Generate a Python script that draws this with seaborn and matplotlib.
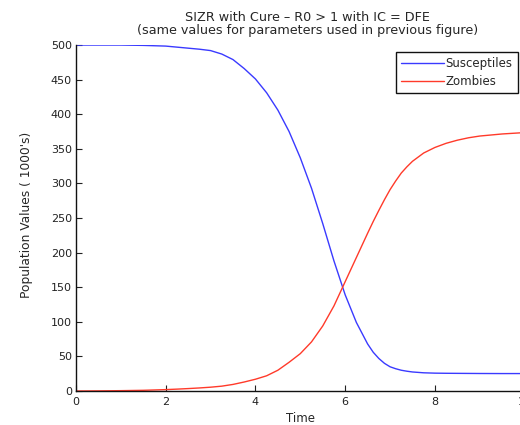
import pandas as pd
import numpy as np
import matplotlib
matplotlib.use("Agg")
import matplotlib.pyplot as plt
import seaborn as sns

# values
time = [0, 0.5, 1, 1.5, 2, 2.25, 2.5, 2.75, 3, 3.25, 3.5, 3.75, 4, 4.25, 4.5, 4.75,
        5, 5.25, 5.5, 5.75, 6, 6.25, 6.5, 6.625, 6.75, 6.875, 7, 7.125, 7.25, 7.375,
        7.5, 7.75, 8, 8.25, 8.5, 8.75, 9, 9.5, 10]
susceptibles = [500, 500, 500, 499.5, 498.5, 497, 495.5, 494, 492, 487, 479, 466, 451, 431, 406, 375,
                337, 293, 242, 188, 139, 99, 68, 56, 47, 40, 35, 32.2, 30, 28.6,
                27.5, 26.3, 25.8, 25.6, 25.5, 25.4, 25.3, 25.2, 25.2]
zombies = [0, 0.2, 0.5, 1, 2, 2.7, 3.5, 4.4, 5.5, 7, 9.5, 13, 17, 22, 30, 41.5,
           54, 71, 94, 123, 158, 193, 228, 245, 261, 276.5, 291, 303.5, 315, 324,
           332, 344, 352, 358, 362.5, 366, 368.5, 371.5, 373.5]

df = pd.DataFrame({"Time": time, "Susceptibles": susceptibles, "Zombies": zombies})
long_df = df.melt(id_vars="Time", var_name="group", value_name="value")

sns.set_style("ticks")
plt.rcParams["font.family"] = ["DejaVu Sans"]

fig = plt.figure(figsize=(5.2, 4.25), dpi=100)
ax = fig.add_axes([0.146, 0.08, 0.863, 0.814])

sns.lineplot(data=long_df, x="Time", y="value", hue="group",
             palette={"Susceptibles": "#3a3aff", "Zombies": "#ff3a2a"},
             linewidth=1.0, ax=ax)

ax.set_xlim(0, 10)
ax.set_ylim(0, 500)
ax.set_xticks([0, 2, 4, 6, 8, 10])
ax.set_yticks(range(0, 501, 50))
ax.tick_params(direction="in", length=4, width=0.8, labelsize=8, colors="#222222")
ax.tick_params(axis="x", pad=4)
ax.tick_params(axis="y", pad=3)
for side in ["top", "right"]:
    ax.spines[side].set_visible(False)
for side in ["left", "bottom"]:
    ax.spines[side].set_linewidth(1.0)
    ax.spines[side].set_color("#111111")

ax.set_xlabel("Time", fontsize=8.5, labelpad=4)
ax.set_ylabel("Population Values ( 1000's)", fontsize=8.8)
ax.yaxis.set_label_coords(-0.095, 0.51)
ax.set_title("SIZR with Cure \u2013 R0 > 1 with IC = DFE\n"
             "(same values for parameters used in previous figure)",
             fontsize=9.2, pad=8, linespacing=0.95, x=0.517)

handles, labels = ax.get_legend_handles_labels()
leg = ax.legend(handles, ["Susceptiles", "Zombies"], loc="upper right",
                bbox_to_anchor=(0.985, 0.98), fontsize=8.5, frameon=True,
                fancybox=False, edgecolor="#111111", framealpha=1,
                handlelength=3.6, handletextpad=0.15, borderpad=0.45,
                labelspacing=0.4, borderaxespad=0)
leg.get_frame().set_linewidth(1.0)

fig.savefig("out.png", dpi=100)
